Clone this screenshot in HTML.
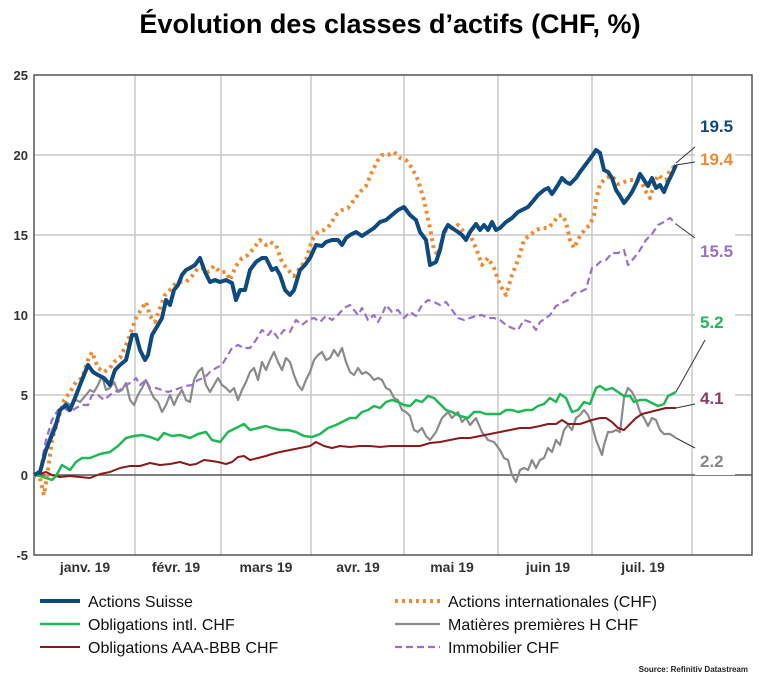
<!DOCTYPE html>
<html><head><meta charset="utf-8"><style>
body{margin:0;background:#fff;width:780px;height:692px;overflow:hidden;font-family:"Liberation Sans",sans-serif}
</style></head><body>
<svg width="780" height="692" viewBox="0 0 780 692" xmlns="http://www.w3.org/2000/svg" font-family="Liberation Sans, sans-serif">
<text x="390" y="33" text-anchor="middle" font-size="27" font-weight="bold" fill="#000">Évolution des classes d’actifs (CHF, %)</text>
<g stroke="#c8c8c8" stroke-width="1.5">
<line x1="34" y1="155" x2="752" y2="155"/><line x1="34" y1="235" x2="752" y2="235"/><line x1="34" y1="315" x2="752" y2="315"/><line x1="34" y1="395" x2="752" y2="395"/>
<line x1="135" y1="75" x2="135" y2="555"/><line x1="221" y1="75" x2="221" y2="555"/><line x1="311" y1="75" x2="311" y2="555"/><line x1="404" y1="75" x2="404" y2="555"/><line x1="498" y1="75" x2="498" y2="555"/><line x1="592" y1="75" x2="592" y2="555"/><line x1="692" y1="75" x2="692" y2="555"/>
</g>
<line x1="34" y1="475" x2="752" y2="475" stroke="#555" stroke-width="1.5"/>
<rect x="34" y="75" width="718" height="480" fill="none" stroke="#555" stroke-width="1.5"/>
<rect x="695" y="110" width="40" height="365" fill="#fff"/>
<g font-size="13" font-weight="bold" fill="#333" text-anchor="end">
<text x="28" y="80">25</text><text x="28" y="160">20</text><text x="28" y="240">15</text><text x="28" y="320">10</text><text x="28" y="400">5</text><text x="28" y="480">0</text><text x="28" y="560">-5</text>
</g>
<g font-size="14" font-weight="bold" fill="#333" text-anchor="middle">
<text x="85" y="572">janv. 19</text><text x="176" y="572">févr. 19</text><text x="266" y="572">mars 19</text><text x="358" y="572">avr. 19</text><text x="452" y="572">mai 19</text><text x="548" y="572">juin 19</text><text x="643" y="572">juil. 19</text>
</g>
<g fill="none" stroke-linejoin="round">
<polyline stroke="#8a8a8a" stroke-width="2.2" points="34,475 40,470 46,448 52,430 58,418 62,408 66,402 70,405 76,400 80,402 86,395 90,390 94,392 98,385 102,376 106,390 110,388 114,382 118,392 122,390 126,383 130,400 134,405 138,395 142,388 146,380 150,390 154,398 158,402 162,412 166,405 170,395 174,405 178,396 182,390 186,400 190,402 194,380 198,372 202,368 206,385 210,392 214,385 218,378 222,385 226,388 230,392 234,388 238,400 242,390 246,382 250,372 254,368 258,380 262,362 266,370 270,360 274,352 278,362 282,370 286,358 290,362 294,375 298,385 302,390 306,380 310,372 314,360 318,355 322,352 326,360 330,358 334,350 338,356 342,348 346,362 350,372 354,375 358,368 362,374 366,372 370,375 374,380 378,378 382,380 386,388 390,390 394,398 398,400 402,410 406,412 410,416 414,430 418,432 422,428 426,436 430,440 436,432 442,418 448,412 452,418 458,412 462,422 466,418 470,425 476,418 482,432 488,440 494,442 500,450 504,458 508,460 512,475 516,482 520,470 524,468 528,470 532,460 536,468 540,460 544,458 548,448 552,452 556,440 560,445 564,430 568,425 572,430 576,418 580,415 584,410 588,415 592,425 596,440 600,450 602,455 604,445 608,432 612,432 616,430 620,432 624,398 628,388 632,392 636,400 640,412 644,418 648,426 652,418 656,420 660,430 664,434 670,434 676,438"/>
<polyline stroke="#8b1a1a" stroke-width="2" points="34,475 40,474 46,472 52,475 60,477 70,476 80,477 90,478 100,474 110,472 120,468 130,466 140,466 150,463 160,465 170,464 180,462 190,465 196,464 204,460 212,461 218,462 226,464 232,462 238,457 244,456 250,460 258,458 266,456 272,454 280,452 290,450 300,448 310,446 316,442 324,446 332,448 340,446 350,447 360,446 370,446 380,447 390,446 400,446 410,446 420,446 430,443 440,442 450,440 460,438 470,438 480,436 490,434 500,432 510,430 520,428 530,428 540,426 548,424 556,424 562,420 568,424 574,424 580,424 586,422 592,420 600,418 606,418 612,422 618,428 624,430 630,424 636,418 642,414 650,412 658,410 666,408 676,408"/>
<polyline stroke="#1db954" stroke-width="2.5" points="34,475 40,476 46,478 52,480 56,476 62,465 70,470 76,462 82,458 90,458 100,454 110,452 118,446 126,438 134,436 142,435 150,437 158,440 164,433 172,436 180,435 190,438 198,434 206,432 212,440 220,442 228,432 236,428 244,424 250,430 258,428 266,426 272,428 280,430 288,430 296,432 304,436 312,437 320,434 328,428 336,425 342,422 350,418 356,418 362,412 368,410 374,406 380,408 386,402 392,400 398,402 404,405 410,406 416,400 422,402 428,396 434,398 440,404 446,410 452,412 460,416 468,418 474,412 480,412 486,414 494,414 500,414 506,410 512,410 518,412 526,410 532,410 538,406 544,404 550,398 556,402 560,394 566,398 572,412 578,410 584,402 590,404 596,388 600,386 606,390 612,388 618,392 624,396 630,396 634,402 640,400 646,400 652,403 658,406 664,404 668,396 676,392"/>
<polyline stroke="#9b6fd0" stroke-width="2.2" stroke-dasharray="7,4" points="34,475 40,470 46,440 52,420 58,410 64,408 70,412 76,408 82,405 88,405 92,395 98,395 104,400 110,395 114,392 120,390 126,385 132,382 136,378 140,385 146,380 150,388 156,388 162,390 168,392 174,390 180,388 186,386 192,385 198,380 204,378 210,372 216,368 222,365 226,358 232,348 238,345 244,348 250,348 256,340 262,330 268,335 272,330 278,338 284,330 290,332 296,320 302,325 308,320 314,318 320,322 326,316 332,320 338,315 344,308 350,305 354,310 358,315 362,308 368,320 374,315 378,322 382,315 386,305 392,312 398,310 404,318 410,312 416,316 422,305 428,300 434,302 440,305 446,302 452,310 458,318 464,320 470,318 476,316 482,315 488,318 494,318 500,320 506,325 512,328 518,330 524,320 530,322 536,330 540,322 546,318 550,315 556,306 562,303 568,300 574,293 580,292 586,289 592,268 596,266 600,262 606,260 612,253 618,253 624,250 628,265 634,258 640,250 646,240 652,234 658,225 664,222 670,218 676,224"/>
<polyline stroke="#f08a30" stroke-width="4" stroke-dasharray="3,4" points="34,475 40,478 44,495 48,470 52,440 58,420 64,400 70,392 76,382 82,378 88,360 92,352 98,368 104,372 110,368 114,362 120,358 126,345 130,335 136,318 142,308 146,302 150,316 155,322 160,308 165,295 170,290 174,285 180,282 186,282 192,276 198,268 204,268 208,272 214,266 220,272 226,272 230,280 236,266 242,258 248,255 254,248 260,240 266,245 270,242 276,245 282,262 288,270 294,276 300,268 306,260 312,240 318,232 324,230 330,225 336,215 342,210 348,208 354,200 360,192 366,186 372,172 378,160 382,155 388,155 394,152 400,158 406,160 412,168 418,180 424,200 430,228 434,250 438,255 442,240 446,230 452,228 458,225 464,232 470,235 476,248 482,265 488,258 494,268 500,285 506,295 512,275 518,260 524,240 530,235 536,230 542,228 548,228 554,222 558,216 562,215 566,222 570,240 574,248 580,236 586,228 590,225 594,215 596,200 600,184 606,178 612,176 618,184 624,182 630,180 636,180 642,183 646,192 650,198 654,185 658,175 662,178 666,180 670,170 676,165"/>
<polyline stroke="#0d4a80" stroke-width="4" points="34,475 40,472 46,450 50,440 55,428 60,410 66,405 70,410 75,398 80,385 88,365 93,372 98,375 104,378 110,385 115,370 120,365 126,360 132,335 136,335 140,350 145,360 148,355 152,335 158,325 162,318 166,300 170,305 174,290 178,285 182,275 186,270 190,268 195,265 200,258 205,272 210,282 215,280 220,282 226,280 232,283 236,300 240,290 245,290 250,270 256,262 262,258 266,258 272,270 276,268 280,275 285,290 290,295 294,290 300,270 305,265 310,258 316,245 322,246 326,242 332,240 338,240 342,245 346,238 350,235 356,232 362,236 368,232 374,228 380,222 386,220 392,215 398,210 404,207 410,215 416,220 420,232 426,240 430,265 436,262 440,250 444,232 448,225 452,228 458,232 462,235 466,240 470,232 476,224 480,230 484,225 488,230 492,222 496,230 500,228 506,222 512,218 518,212 522,210 528,207 534,200 538,195 544,190 548,188 552,194 558,185 562,178 566,182 570,184 576,178 580,172 586,164 592,156 596,150 600,153 604,170 608,172 612,178 616,190 620,196 624,203 628,198 632,192 636,184 640,174 644,180 648,186 652,178 656,188 660,185 664,192 668,182 672,174 676,165"/>
</g>
<g stroke="#333" stroke-width="1">
<line x1="676" y1="163" x2="695" y2="147"/><line x1="676" y1="165" x2="695" y2="162"/><line x1="676" y1="224" x2="695" y2="238"/><line x1="676" y1="392" x2="705" y2="340"/><line x1="676" y1="408" x2="695" y2="404"/><line x1="676" y1="438" x2="695" y2="448"/>
</g>
<g font-size="17" font-weight="bold">
<text x="700" y="132" fill="#0d4a80">19.5</text>
<text x="700" y="165" fill="#f08a30">19.4</text>
<text x="700" y="257" fill="#9b6fd0">15.5</text>
<text x="700" y="328" fill="#1db954">5.2</text>
<text x="700" y="404" fill="#8b3a6a">4.1</text>
<text x="700" y="467" fill="#888">2.2</text>
</g>
<g font-size="16" fill="#111">
<line x1="40" y1="601" x2="80" y2="601" stroke="#0d4a80" stroke-width="4"/><text x="88" y="607">Actions Suisse</text>
<line x1="40" y1="624" x2="80" y2="624" stroke="#1db954" stroke-width="2.5"/><text x="88" y="630">Obligations intl. CHF</text>
<line x1="40" y1="647" x2="80" y2="647" stroke="#8b1a1a" stroke-width="2"/><text x="88" y="653">Obligations AAA-BBB CHF</text>
<line x1="395" y1="601" x2="440" y2="601" stroke="#f08a30" stroke-width="4" stroke-dasharray="3,4"/><text x="448" y="607">Actions internationales (CHF)</text>
<line x1="395" y1="624" x2="440" y2="624" stroke="#8a8a8a" stroke-width="2.2"/><text x="448" y="630">Matières premières H CHF</text>
<line x1="395" y1="647" x2="440" y2="647" stroke="#9b6fd0" stroke-width="2.2" stroke-dasharray="7,4"/><text x="448" y="653">Immobilier CHF</text>
</g>
<text x="748" y="672" font-size="8" font-weight="bold" fill="#222" text-anchor="end">Source: Refinitiv Datastream</text>
</svg>
</body></html>
